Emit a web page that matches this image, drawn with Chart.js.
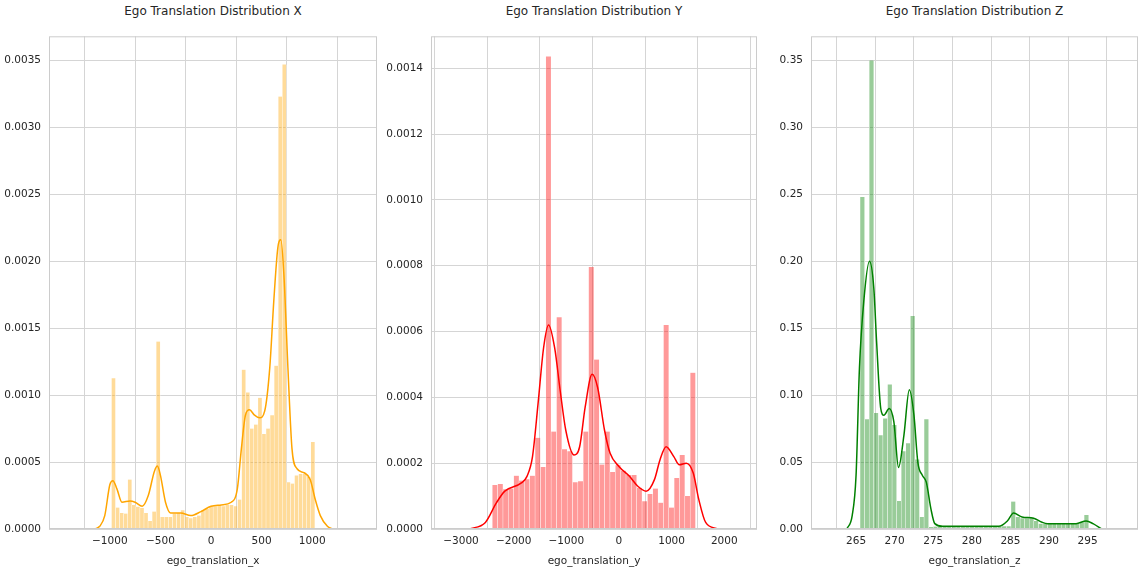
<!DOCTYPE html>
<html><head><meta charset="utf-8">
<script src="https://cdn.jsdelivr.net/npm/chart.js@4"></script>
<style>
body{margin:0;background:#fff;width:1144px;height:568px;position:relative;overflow:hidden;font-family:"DejaVu Sans",sans-serif}
.t{position:absolute;top:4px;font-size:12px;color:#262626;text-align:center}
</style></head><body>
<div class="t" style="left:49px;width:328px">Ego Translation Distribution X</div>
<div class="t" style="left:431px;width:326px">Ego Translation Distribution Y</div>
<div class="t" style="left:811px;width:327px">Ego Translation Distribution Z</div>
<div style="position:absolute;left:0;top:22px;width:380px;height:546px"><canvas id="c1"></canvas></div>
<div style="position:absolute;left:380px;top:22px;width:380px;height:546px"><canvas id="c2"></canvas></div>
<div style="position:absolute;left:760px;top:22px;width:384px;height:546px"><canvas id="c3"></canvas></div>
<script>
// ---- X ----
const xBinStart=-984, xBinWidth=40.2;
const xHist=[0.001126,0.00016,0.00012,0.000115,0.00037,0.00018,0.000167,0.000156,0.00012,0.00006,0.00013,0.0014,0.00009,0.00009,0.00009,0.000115,0.00012,0.00014,0.00009,0.00008,0.00009,0.0001,0.00014,0.00015,0.00017,0.00017,0.00018,0.00017,0.00018,0.00018,0.00017,0.00022,0.00119,0.00102,0.00075,0.00078,0.00098,0.00071,0.00075,0.00085,0.00122,0.00323,0.00347,0.00035,0.00034,0.0004,0.00041,0.00041,0.00039,0.00065];
const xKdeX=[-1150,-1100,-1050,-1000,-970,-930,-880,-800,-750,-680,-620,-560,-530,-500,-450,-400,-300,-200,-100,0,100,200,260,300,340,380,430,480,530,580,620,660,690,720,760,800,850,920,980,1030,1080,1150,1200];
const xKdeY=[0,0.00002,0.0001,0.00033,0.00036,0.0003,0.0002,0.00021,0.0002,0.00017,0.00025,0.00043,0.00047,0.0004,0.0002,0.00012,0.00012,0.0001,0.00013,0.00017,0.00018,0.0002,0.0003,0.0006,0.00085,0.00089,0.00085,0.00083,0.00088,0.0012,0.0017,0.0021,0.00216,0.0019,0.0012,0.0006,0.00045,0.00042,0.00037,0.00022,0.0001,0.00002,0];
const xXTicks=[-1000,-500,0,500,1000];
const xYTicks=[0,0.0005,0.001,0.0015,0.002,0.0025,0.003,0.0035];
// ---- Y ----
const yBinStart=-2406, yBinWidth=101.6;
const yHist=[0.000134,0.000137,0.000121,0.000123,0.000162,0.000147,0.000151,0.000162,0.000277,0.000188,0.001436,0.000296,0.000643,0.000242,0.000236,0.000142,0.000145,0.000296,0.000796,0.000515,0.000196,0.000296,0.000173,0.000194,0.000177,0.000164,0.000164,0.000125,0.000084,0.000106,0.000123,0.00008,0.00062,0.000065,0.000155,0.000225,0.0001,0.000475];
const yKdeX=[-2842,-2537,-2326,-2168,-1853,-1747,-1642,-1537,-1432,-1337,-1221,-1116,-1010,-853,-747,-642,-510,-405,-274,-168,0,200,358,516,674,779,895,1042,1147,1279,1411,1516,1647,1874];
const yKdeY=[0,0.00002,0.00008,0.000115,0.00014,0.00016,0.00022,0.00038,0.00055,0.00062,0.00055,0.00042,0.0003,0.000225,0.00025,0.00037,0.00047,0.00043,0.0003,0.00023,0.00019,0.00016,0.00013,0.000115,0.00015,0.00021,0.00025,0.00022,0.000195,0.0002,0.00017,0.00009,0.00002,0];
const yXTicks=[-3000,-2000,-1000,0,1000,2000];
const yYTicks=[0,0.0002,0.0004,0.0006,0.0008,0.001,0.0012,0.0014];
// ---- Z ----
const zBinStart=265.52, zBinWidth=0.5924;
const zHist=[0.248,0.082,0.35,0.0866,0.07,0.0826,0.108,0.0776,0.021,0.058,0.064,0.159,0.052,0.009,0.082,0.0015,0.0018,0.0018,0.0018,0.0018,0.0018,0.0018,0.0018,0.0018,0.0018,0.0018,0.0018,0.0018,0.0018,0.0018,0.0018,0.002,0.002,0.0205,0.009,0.008,0.008,0.0085,0.006,0.004,0.004,0.004,0.004,0.004,0.004,0.004,0.004,0.004,0.005,0.0105];
const zKdeX=[263.8,264.5,265,265.44,266,266.74,267.3,267.66,268.2,268.6,269.3,269.9,270.5,271.2,271.9,272.5,273.0,273.6,274.1,274.7,275.2,276.2,283.5,284.6,285.4,286.5,288,289.1,289.8,293.5,294.8,295.7,296.8];
const zKdeY=[0,0.01,0.04,0.12,0.17,0.2,0.18,0.14,0.09,0.085,0.09,0.08,0.046,0.07,0.104,0.085,0.05,0.04,0.035,0.015,0.004,0.002,0.002,0.006,0.012,0.009,0.008,0.005,0.004,0.004,0.006,0.004,0];
const zXTicks=[265,270,275,280,285,290,295];
const zYTicks=[0,0.05,0.1,0.15,0.2,0.25,0.3,0.35];

const GRID='#d5d5d5', TXT='#262626', FONT={family:'DejaVu Sans',size:10.5};
const frame={id:'frame',afterDraw(c){const a=c.chartArea,x=c.ctx;x.save();x.strokeStyle='#cccccc';x.lineWidth=1;x.strokeRect(a.left+0.5,a.top+0.5,a.right-a.left-1,a.bottom-a.top-1);x.restore();}};
function make(id,cfg){
  const bars=cfg.hist.map((v,i)=>({x:cfg.bs+(i+0.5)*cfg.bw,y:v}));
  const kde=cfg.kx.map((v,i)=>({x:v,y:cfg.ky[i]}));
  new Chart(document.getElementById(id),{
    plugins:[frame],
    data:{datasets:[
      {type:'line',data:kde,borderColor:cfg.line,borderWidth:1.5,pointRadius:0,cubicInterpolationMode:'monotone',fill:false,order:0},
      {type:'bar',data:bars,backgroundColor:cfg.fill,borderColor:'rgba(255,255,255,0.8)',borderWidth:{left:0.5,right:0.5,top:0,bottom:0},barPercentage:1,categoryPercentage:1,grouped:false,order:1}
    ]},
    options:{responsive:true,maintainAspectRatio:false,animation:false,
      layout:{padding:{left:0,right:cfg.rp,top:0,bottom:0}},
      plugins:{legend:{display:false},tooltip:{enabled:false}},
      scales:{
        x:{type:'linear',min:cfg.xmin,max:cfg.xmax,
          afterBuildTicks:s=>{s.ticks=cfg.xt.map(v=>({value:v}))},
          afterFit:s=>{s.height=39},
          grid:{color:GRID,drawTicks:false},border:{display:false},
          ticks:{color:TXT,font:FONT,padding:6,maxRotation:0,callback:v=>String(v).replace('-','\u2212')},
          title:{display:true,text:cfg.xl,color:TXT,font:FONT,padding:{top:2,bottom:0}}},
        y:{min:0,max:cfg.ymax,
          afterBuildTicks:s=>{s.ticks=cfg.yt.map(v=>({value:v}))},
          afterFit:s=>{s.width=cfg.yw},
          grid:{color:GRID,drawTicks:false},border:{display:false},
          ticks:{color:TXT,font:FONT,padding:8,callback:v=>v.toFixed(cfg.dec)}}
      }}
  });
}
make('c1',{hist:xHist,bs:xBinStart,bw:xBinWidth,kx:xKdeX,ky:xKdeY,xt:xXTicks,yt:xYTicks,xmin:-1277,xmax:1316,ymax:0.00368,yw:49,rp:3,dec:4,line:'#ffa500',fill:'rgba(255,165,0,0.4)',xl:'ego_translation_x'});
make('c2',{hist:yHist,bs:yBinStart,bw:yBinWidth,kx:yKdeX,ky:yKdeY,xt:yXTicks,yt:yYTicks,xmin:-3054,xmax:2106,ymax:0.001497,yw:51,rp:3,dec:4,line:'#ff0000',fill:'rgba(255,0,0,0.4)',xl:'ego_translation_y'});
make('c3',{hist:zHist,bs:zBinStart,bw:zBinWidth,kx:zKdeX,ky:zKdeY,xt:zXTicks,yt:zYTicks,xmin:262.19,xmax:298.5,ymax:0.368,yw:51,rp:6,dec:2,line:'#008000',fill:'rgba(0,128,0,0.4)',xl:'ego_translation_z'});
</script></body></html>
